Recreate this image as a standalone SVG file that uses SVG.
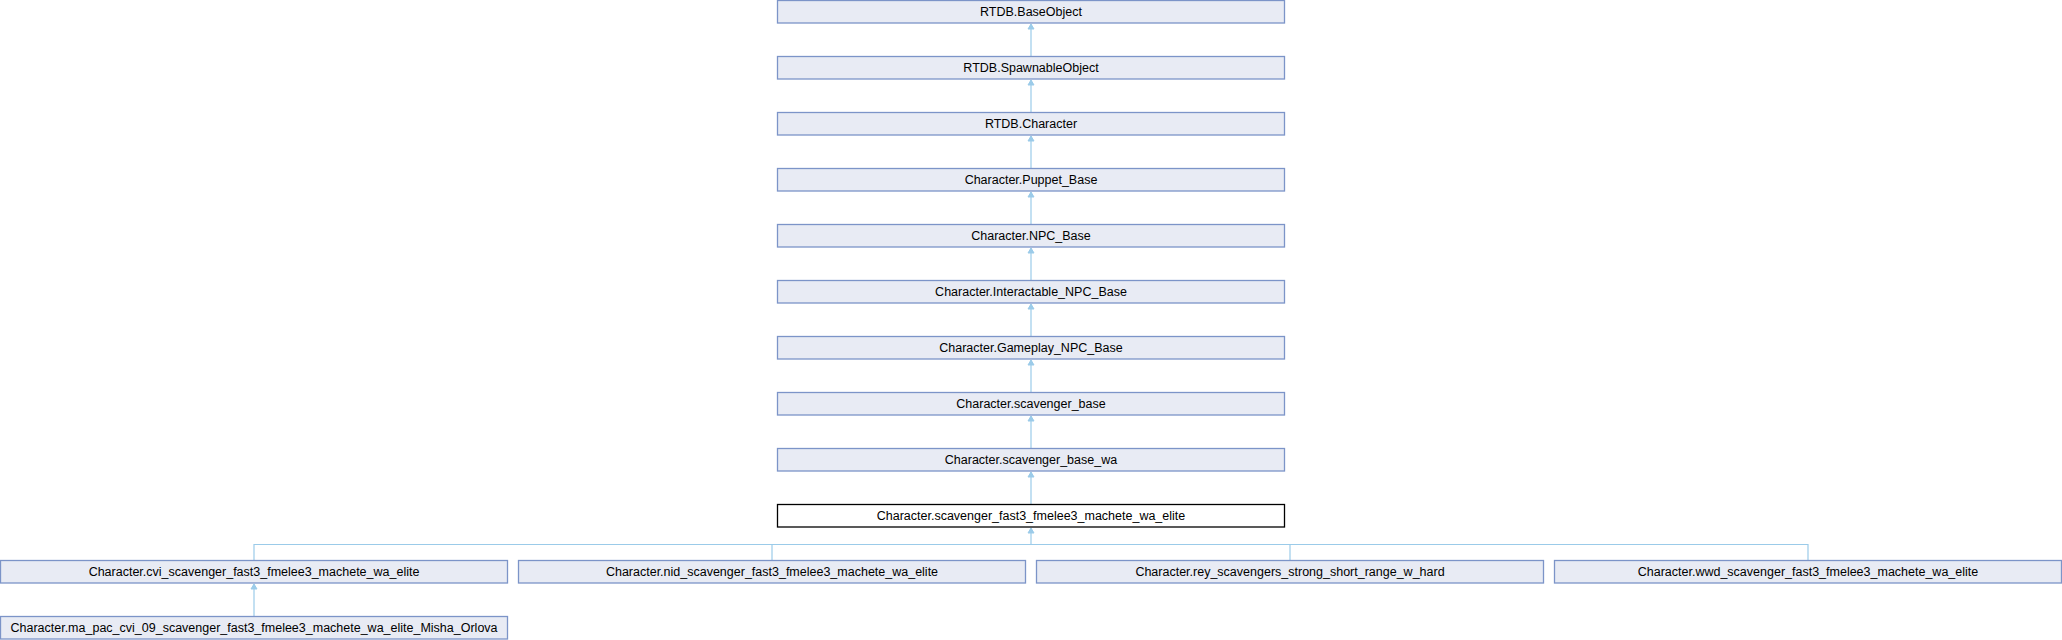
<svg xmlns="http://www.w3.org/2000/svg" width="2062" height="640" viewBox="0 0 2062 640">
<defs>
<marker id="arr" markerWidth="8" markerHeight="8" refX="3.5" refY="0.5" orient="0" markerUnits="userSpaceOnUse" viewBox="0 0 8 8" overflow="visible">
<path d="M3.5,0.5 L6.5,5.5 L0.5,5.5 Z" fill="#9BCBE9" stroke="#9BCBE9" stroke-width="1"/>
</marker>
<style>
.n rect{fill:#E8EBF4;stroke:#7C94C8;stroke-width:1.3}
.m rect{fill:#FFFFFF;stroke:#000000;stroke-width:1.3}
text{font-family:"Liberation Sans",Arial,sans-serif;font-size:12.5px;fill:#000;text-anchor:middle}
.e{stroke:#9BCBE9;stroke-width:1.2;fill:none}
</style>
</defs>
<rect width="2062" height="640" fill="#FFFFFF"/>
<g id="connectors">
<path class="e" d="M1031,56.5 V24" marker-end="url(#arr)"/>
<path class="e" d="M1031,112.5 V80" marker-end="url(#arr)"/>
<path class="e" d="M1031,168.5 V136" marker-end="url(#arr)"/>
<path class="e" d="M1031,224.5 V192" marker-end="url(#arr)"/>
<path class="e" d="M1031,280.5 V248" marker-end="url(#arr)"/>
<path class="e" d="M1031,336.5 V304" marker-end="url(#arr)"/>
<path class="e" d="M1031,392.5 V360" marker-end="url(#arr)"/>
<path class="e" d="M1031,448.5 V416" marker-end="url(#arr)"/>
<path class="e" d="M1031,504.5 V472" marker-end="url(#arr)"/>
<path class="e" d="M1031,544.5 V528" marker-end="url(#arr)"/>
<path class="e" d="M254,560.5 V544.5 H1808 V560.5"/>
<path class="e" d="M772,544.5 V560.5"/>
<path class="e" d="M1290,544.5 V560.5"/>
<path class="e" d="M254,616.5 V584" marker-end="url(#arr)"/>
</g>
<g id="n0" class="n"><rect x="777.5" y="0.5" width="507" height="22.5"/><text x="1031" y="15.6">RTDB.BaseObject</text></g>
<g id="n1" class="n"><rect x="777.5" y="56.5" width="507" height="22.5"/><text x="1031" y="71.6">RTDB.SpawnableObject</text></g>
<g id="n2" class="n"><rect x="777.5" y="112.5" width="507" height="22.5"/><text x="1031" y="127.6">RTDB.Character</text></g>
<g id="n3" class="n"><rect x="777.5" y="168.5" width="507" height="22.5"/><text x="1031" y="183.6">Character.Puppet_Base</text></g>
<g id="n4" class="n"><rect x="777.5" y="224.5" width="507" height="22.5"/><text x="1031" y="239.6">Character.NPC_Base</text></g>
<g id="n5" class="n"><rect x="777.5" y="280.5" width="507" height="22.5"/><text x="1031" y="295.6">Character.Interactable_NPC_Base</text></g>
<g id="n6" class="n"><rect x="777.5" y="336.5" width="507" height="22.5"/><text x="1031" y="351.6">Character.Gameplay_NPC_Base</text></g>
<g id="n7" class="n"><rect x="777.5" y="392.5" width="507" height="22.5"/><text x="1031" y="407.6">Character.scavenger_base</text></g>
<g id="n8" class="n"><rect x="777.5" y="448.5" width="507" height="22.5"/><text x="1031" y="463.6">Character.scavenger_base_wa</text></g>
<g id="n9" class="m"><rect x="777.5" y="504.5" width="507" height="22.5"/><text x="1031" y="519.6">Character.scavenger_fast3_fmelee3_machete_wa_elite</text></g>
<g id="n10" class="n"><rect x="0.5" y="560.5" width="507" height="22.5"/><text x="254" y="575.6">Character.cvi_scavenger_fast3_fmelee3_machete_wa_elite</text></g>
<g id="n11" class="n"><rect x="518.5" y="560.5" width="507" height="22.5"/><text x="772" y="575.6">Character.nid_scavenger_fast3_fmelee3_machete_wa_elite</text></g>
<g id="n12" class="n"><rect x="1036.5" y="560.5" width="507" height="22.5"/><text x="1290" y="575.6">Character.rey_scavengers_strong_short_range_w_hard</text></g>
<g id="n13" class="n"><rect x="1554.5" y="560.5" width="507" height="22.5"/><text x="1808" y="575.6">Character.wwd_scavenger_fast3_fmelee3_machete_wa_elite</text></g>
<g id="n14" class="n"><rect x="0.5" y="616.5" width="507" height="22.5"/><text x="254" y="631.6">Character.ma_pac_cvi_09_scavenger_fast3_fmelee3_machete_wa_elite_Misha_Orlova</text></g>
</svg>
